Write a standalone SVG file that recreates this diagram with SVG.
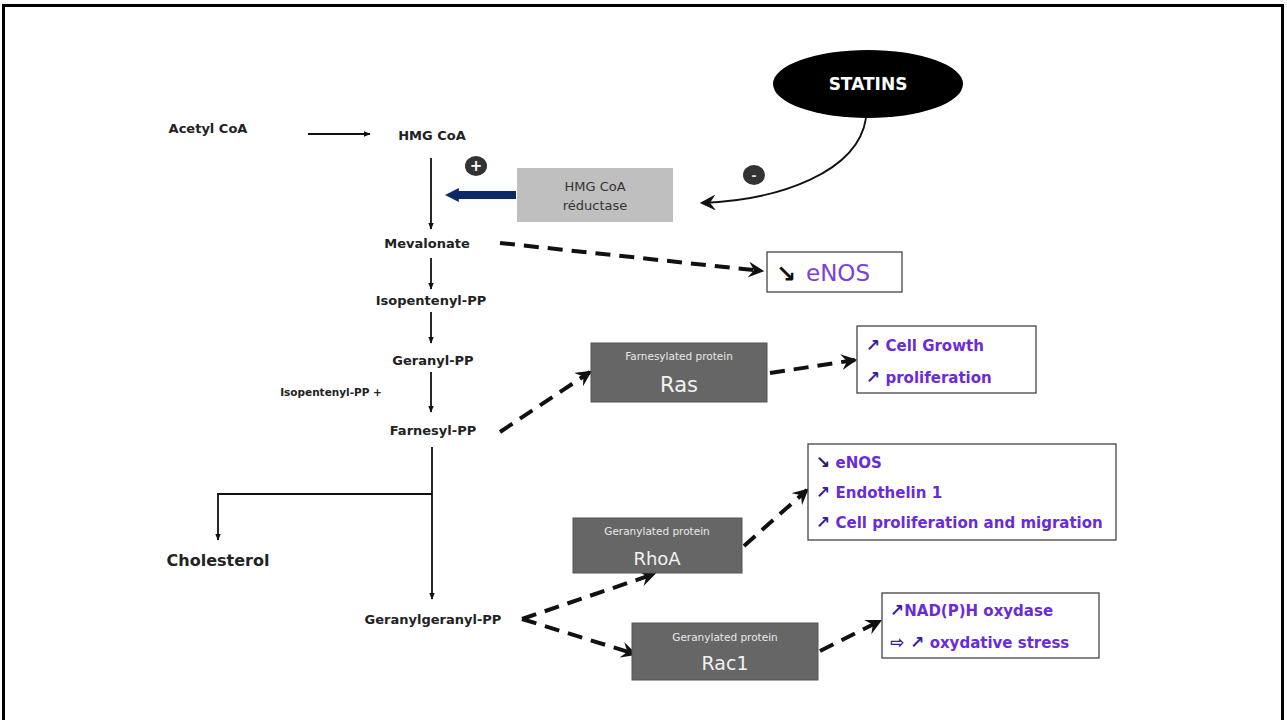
<svg xmlns="http://www.w3.org/2000/svg" width="1287" height="720" viewBox="0 0 1287 720">
<defs>
<style>
.lbl{font-family:"DejaVu Sans","Liberation Sans",sans-serif;font-weight:bold;font-size:13px;fill:#222;}
.box{fill:#666;stroke:#555;stroke-width:1;}
.sm{font-family:"DejaVu Sans","Liberation Sans",sans-serif;font-size:10.5px;fill:#e8e8e8;}
.big{font-family:"DejaVu Sans","Liberation Sans",sans-serif;font-size:19px;fill:#f2f2f2;}
.out{fill:#fff;stroke:#444;stroke-width:1.3;}
.pt{font-family:"DejaVu Sans","Liberation Sans",sans-serif;font-weight:bold;font-size:15px;fill:#6a2bd9;}
.ar{fill:#3a1aa0;font-size:17px;}
.solid{stroke:#111;stroke-width:1.8;fill:none;}
.dash{stroke:#111;stroke-width:4;fill:none;stroke-dasharray:15 9;}
</style>
<marker id="tri" viewBox="0 0 10 10" refX="9" refY="5" markerWidth="7" markerHeight="7" orient="auto" markerUnits="userSpaceOnUse">
<path d="M0,1 L10,5 L0,9 z" fill="#111"/>
</marker>
<marker id="chev" viewBox="0 0 14 14" refX="12" refY="7" markerWidth="16" markerHeight="16" orient="auto" markerUnits="userSpaceOnUse">
<path d="M0,0 L14,7 L0,14 L5,7 z" fill="#111"/>
</marker>
<marker id="blue" viewBox="0 0 10 10" refX="2" refY="5" markerWidth="14" markerHeight="18" orient="auto" markerUnits="userSpaceOnUse">
<path d="M0,0 L10,5 L0,10 z" fill="#0b2a66"/>
</marker>
</defs>
<rect x="0" y="0" width="1287" height="720" fill="#fff"/>
<path d="M3.5,720 V5.5 H1282.5 V720" fill="none" stroke="#000" stroke-width="3"/>

<g id="connectors">
<line class="solid" x1="308" y1="134" x2="370" y2="134" marker-end="url(#tri)"/>
<line class="solid" x1="431" y1="158" x2="431" y2="229" marker-end="url(#tri)"/>
<line x1="516" y1="195" x2="456" y2="195" stroke="#0b2a66" stroke-width="8" marker-end="url(#blue)"/>
<path class="solid" d="M866,118 C858,172 780,200 702,203" stroke-width="2.2" marker-end="url(#chev)"/>
<line class="solid" x1="431" y1="258" x2="431" y2="289" marker-end="url(#tri)"/>
<line class="solid" x1="431" y1="312" x2="431" y2="343" marker-end="url(#tri)"/>
<line class="solid" x1="431" y1="372" x2="431" y2="412" marker-end="url(#tri)"/>
<line class="solid" x1="432" y1="447" x2="432" y2="599" marker-end="url(#tri)"/>
<path class="solid" d="M432,494 H218 V540" marker-end="url(#tri)"/>
<path class="dash" d="M500,243 L762,271" marker-end="url(#chev)"/>
<path class="dash" d="M500,432 L590,372" marker-end="url(#chev)"/>
<path class="dash" d="M770,373 L855,360" marker-end="url(#chev)"/>
<path class="dash" d="M522,619 L654,574" marker-end="url(#chev)"/>
<path class="dash" d="M522,619 L635,654" marker-end="url(#chev)"/>
<path class="dash" d="M744,546 L807,490" marker-end="url(#chev)"/>
<path class="dash" d="M820,651 L880,621" marker-end="url(#chev)"/>
</g>

<g id="acetyl"><text class="lbl" x="208" y="133" text-anchor="middle">Acetyl CoA</text></g>
<g id="hmgcoa"><text class="lbl" x="432" y="140" text-anchor="middle">HMG CoA</text></g>
<g id="plus"><ellipse cx="476" cy="166" rx="11" ry="10" fill="#333"/><text x="476" y="171" text-anchor="middle" font-family="DejaVu Sans,sans-serif" font-weight="bold" font-size="15" fill="#fff">+</text></g>
<g id="reductase">
<rect x="517" y="168" width="156" height="54" fill="#bfbfbf"/>
<text x="595" y="191" text-anchor="middle" font-family="DejaVu Sans,sans-serif" font-size="13" fill="#333">HMG CoA</text>
<text x="595" y="210" text-anchor="middle" font-family="DejaVu Sans,sans-serif" font-size="13" fill="#333">réductase</text>
</g>
<g id="minus"><ellipse cx="754" cy="175" rx="11" ry="10" fill="#333"/><text x="754" y="180" text-anchor="middle" font-family="DejaVu Sans,sans-serif" font-weight="bold" font-size="13" fill="#ddd">-</text></g>
<g id="statins"><ellipse cx="868" cy="84" rx="95" ry="34" fill="#000"/><text x="868" y="90" text-anchor="middle" font-family="DejaVu Sans,sans-serif" font-weight="bold" font-size="17" fill="#fff">STATINS</text></g>
<g id="mevalonate"><text class="lbl" x="427" y="248" text-anchor="middle">Mevalonate</text></g>
<g id="enos1"><rect class="out" x="767" y="252" width="135" height="40"/>
<text x="776" y="282" font-family="DejaVu Sans,sans-serif" font-weight="bold" font-size="24" fill="#111">↘</text>
<text x="806" y="281" font-family="DejaVu Sans,sans-serif" font-size="23" fill="#7a3fe0">eNOS</text></g>
<g id="isopentenyl"><text class="lbl" x="431" y="305" text-anchor="middle">Isopentenyl-PP</text></g>
<g id="geranyl"><text class="lbl" x="433" y="365" text-anchor="middle">Geranyl-PP</text></g>
<g id="isoplus"><text x="331" y="396" text-anchor="middle" font-family="DejaVu Sans,sans-serif" font-weight="bold" font-size="10.5" fill="#222">Isopentenyl-PP +</text></g>
<g id="farnesyl"><text class="lbl" x="433" y="435" text-anchor="middle">Farnesyl-PP</text></g>
<g id="ras"><rect class="box" x="591" y="343" width="176" height="59"/>
<text class="sm" x="679" y="360" text-anchor="middle">Farnesylated protein</text>
<text class="big" x="679" y="392" text-anchor="middle" style="font-size:21px">Ras</text></g>
<g id="growth"><rect class="out" x="857" y="326" width="179" height="67"/>
<text class="pt" x="866" y="351"><tspan class="ar">↗</tspan> Cell Growth</text>
<text class="pt" x="866" y="383"><tspan class="ar">↗</tspan> proliferation</text></g>
<g id="cholesterol"><text class="lbl" x="218" y="566" text-anchor="middle" style="font-size:16px">Cholesterol</text></g>
<g id="ggpp"><text class="lbl" x="433" y="624" text-anchor="middle">Geranylgeranyl-PP</text></g>
<g id="rhoa"><rect class="box" x="573" y="518" width="169" height="55"/>
<text class="sm" x="657" y="535" text-anchor="middle">Geranylated protein</text>
<text class="big" x="657" y="565" text-anchor="middle" style="font-size:18px">RhoA</text></g>
<g id="rhoaeffects"><rect class="out" x="808" y="444" width="308" height="96"/>
<text class="pt" x="816" y="468"><tspan class="ar" fill="#2a1a70" style="fill:#2a1a70">↘</tspan> eNOS</text>
<text class="pt" x="816" y="498"><tspan class="ar">↗</tspan> Endothelin 1</text>
<text class="pt" x="816" y="528"><tspan class="ar">↗</tspan> Cell proliferation and migration</text></g>
<g id="rac1"><rect class="box" x="632" y="623" width="186" height="57"/>
<text class="sm" x="725" y="641" text-anchor="middle">Geranylated protein</text>
<text class="big" x="725" y="670" text-anchor="middle">Rac1</text></g>
<g id="raceffects"><rect class="out" x="882" y="593" width="217" height="65"/>
<text class="pt" x="890" y="616"><tspan class="ar">↗</tspan>NAD(P)H oxydase</text>
<text class="pt" x="890" y="648"><tspan class="ar">⇨ ↗</tspan> oxydative stress</text></g>
</svg>
